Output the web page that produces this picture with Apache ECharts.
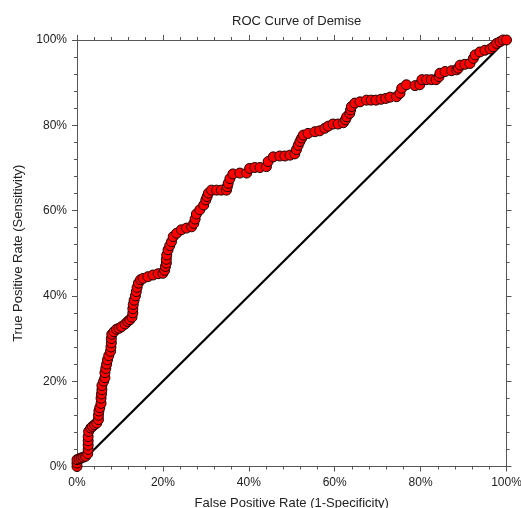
<!DOCTYPE html>
<html>
<head>
<meta charset="utf-8">
<script src="https://cdn.jsdelivr.net/npm/echarts@6/dist/echarts.min.js"></script>
<style>html,body{margin:0;padding:0;background:#fff}#c{width:521px;height:508px}</style>
</head>
<body>
<div id="c"></div>
<script>
// False positive rate (%) and true positive rate (%)
const fpr = [0,0,0,0.5,1,1.5,2,2.5,2.6,2.6,2.6,2.6,2.7,3.2,3.6,4.1,4.6,5,5,5.1,5.3,5.6,5.6,5.7,5.8,5.8,6.2,6.5,6.5,6.7,6.9,7.1,7.4,7.8,7.9,8,8,8.1,8.6,9.2,9.8,10.4,11.2,11.8,12.3,12.8,13,13,13.1,13.3,13.6,13.8,14,14.3,14.8,15.4,16.5,17.7,18.9,20,20.4,20.6,20.8,20.8,20.9,21.2,21.6,22,22.4,23.2,24.3,25.5,26.7,27.2,27.5,27.8,28.6,29.5,30,30.3,30.6,31.3,32.5,33.6,34.8,35,35.2,35.6,36.3,37.9,39.5,40.2,41.4,42.6,44.1,44.5,45.7,47.2,48.4,49.6,50.7,51.1,51.5,51.9,52.3,52.7,53.8,55.4,56.5,57.7,58.5,59.6,60.8,62,62.5,62.8,63.5,63.7,63.9,64.7,65.9,67.4,68.5,69.6,70.8,71.9,72.9,74.4,75.2,75.6,76.7,78.7,79.8,80.3,81.4,82.5,83.6,84.3,84.5,85.7,87.2,88.4,88.8,89.2,90.3,91.5,92.3,92.7,93.8,95,96.2,96.9,97.7,98.5,99.2,100];
const tpr = [0,0.8,1.6,1.8,2,2.2,2.4,3,4,5,6,7,8.2,9,9.4,9.8,10.2,11,12,13,13.8,14.8,16,17,18,19,20,20.8,22,23,24,25,26,27,28,29,30,31,31.6,32.2,32.4,32.8,33.4,34,34.4,35,36,37,38,39,40,41,42,43,43.8,44.1,44.5,44.9,45.2,45.3,46,46.9,47.7,48.6,49.6,50.8,51.8,52.7,53.9,54.7,55.5,55.9,56.2,57,58,59.2,60.2,61.3,62.5,63.3,64.1,64.8,64.8,64.8,64.8,65.6,66.4,67.5,68.6,68.8,68.8,69.9,70.1,70.1,70.3,71.5,72.6,72.8,72.8,73,73.3,74.3,75.3,76.2,77,77.7,78.1,78.5,78.7,79.3,79.8,80.3,80.3,80.6,81.3,82,82.8,83.6,84.4,85.2,85.5,85.9,85.9,85.9,86.1,86.3,86.6,86.7,87.5,88.7,89.5,89.3,89.5,90.7,90.7,90.7,90.7,91.4,92.2,92.6,92.8,93,93.4,94.1,94.3,94.5,95.7,96.5,97.2,97.6,97.9,98.4,99.2,99.6,100,100];
const refX = [0, 100];
const refY = [0, 100];
const titleText = 'ROC Curve of Demise';
const xName = 'False Positive Rate (1-Specificity)';
const yName = 'True Positive Rate (Sensitivity)';

const rocData = fpr.map((v, i) => [v, tpr[i]]);
const refData = refX.map((v, i) => [v, refY[i]]);

const font = 'Arial, "Liberation Sans", sans-serif';
const axisCol = '#555';
function axisBase(extra) {
  return Object.assign({
    type: 'value', min: 0, max: 100, interval: 20,
    axisLine: { show: true, onZero: false, lineStyle: { color: axisCol, width: 1 } },
    axisTick: { show: true, inside: false, length: 5, lineStyle: { color: axisCol } },
    minorTick: { show: true, splitNumber: 5, length: 3, lineStyle: { color: axisCol } },
    splitLine: { show: false },
    minorSplitLine: { show: false }
  }, extra);
}
const chart = echarts.init(document.getElementById('c'), null, { renderer: 'canvas' });
chart.setOption({
  animation: false,
  backgroundColor: '#fff',
  title: {
    text: titleText, left: 227, top: 10,
    textStyle: { fontFamily: font, fontSize: 13, fontWeight: 'normal', color: '#222' }
  },
  grid: { left: 77, right: 14.5, top: 40, bottom: 41.5, containLabel: false, outerBoundsMode: 'none' },
  xAxis: [
    axisBase({
      position: 'bottom',
      name: xName, nameLocation: 'middle', nameGap: 30,
      nameTextStyle: { fontFamily: font, fontSize: 13, color: '#222' },
      axisLabel: { formatter: '{value}%', margin: 10, fontFamily: font, fontSize: 12, color: '#222' }
    }),
    axisBase({ position: 'top', axisLabel: { show: false } })
  ],
  yAxis: [
    axisBase({
      position: 'left',
      name: yName, nameLocation: 'middle', nameGap: 51, nameRotate: 90,
      nameTextStyle: { fontFamily: font, fontSize: 13, color: '#222' },
      axisLabel: { formatter: '{value}%', margin: 10, fontFamily: font, fontSize: 12, color: '#222' }
    }),
    axisBase({ position: 'right', axisLabel: { show: false } })
  ],
  series: [
    {
      type: 'line', data: refData, xAxisIndex: 0, yAxisIndex: 0,
      showSymbol: false, symbol: 'none',
      lineStyle: { color: '#000', width: 2.2 }, z: 1, silent: true
    },
    {
      type: 'line', data: rocData, xAxisIndex: 0, yAxisIndex: 0,
      symbol: 'circle', symbolSize: 10, showSymbol: true, showAllSymbol: true,
      lineStyle: { width: 0, opacity: 0 },
      itemStyle: { color: '#ff0000', borderColor: '#1a0000', borderWidth: 1 },
      z: 3, clip: false
    }
  ]
});
</script>
</body>
</html>
